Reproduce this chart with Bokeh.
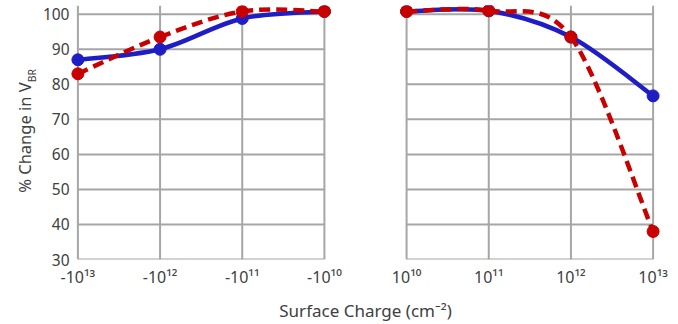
import math
from bokeh.plotting import figure
from bokeh.layouts import row
from bokeh.models import FixedTicker, ColumnDataSource
from bokeh.core.properties import value
from bokeh.embed import file_html
from bokeh.resources import INLINE

# ---- data ----
neg_labels = ["-10\u00b9\u00b3", "-10\u00b9\u00b2", "-10\u00b9\u00b9", "-10\u00b9\u2070"]
pos_labels = ["10\u00b9\u2070", "10\u00b9\u00b9", "10\u00b9\u00b2", "10\u00b9\u00b3"]
neg_blue = [87.0, 90.0, 98.8, 100.8]
neg_red = [83.0, 93.5, 100.8, 100.8]
pos_blue = [100.8, 101.0, 93.5, 76.7]
pos_red = [100.8, 101.0, 93.5, 38.0]
y_ticks = [30, 40, 50, 60, 70, 80, 90, 100]
y_title = "% Change in V"
y_title_sub = "BR"
x_title = "Surface Charge (cm\u207b\u00b2)"

BLUE = "#1E1EC4"
RED = "#C80000"
GRID = "#A6A6A6"
TXT = "#404040"
FONT = "Noto Sans"
W, H = 678, 324
TW = 38  # width of the strip holding the y title

neg_x = list(range(len(neg_labels)))
pos_x = [len(neg_labels) + i for i in range(len(pos_labels))]
y0, y1 = 30, 102.5

# ---- strip with the rotated y-axis title ----
t = figure(width=TW, height=H, output_backend="svg", toolbar_location=None,
           x_range=(0, TW), y_range=(0, H), min_border=0)
t.axis.visible = False
t.grid.visible = False
t.outline_line_color = None
ty = H - 98
t.text(x=[24], y=[ty], text=[y_title], angle=math.pi / 2, text_align="right",
       text_baseline="middle", text_font=value(FONT), text_font_size="16.5px", text_color=TXT)
t.text(x=[31], y=[ty], text=[y_title_sub], angle=math.pi / 2, text_align="left",
       text_baseline="middle", text_font=value(FONT), text_font_size="10.5px", text_color=TXT)

# ---- main chart ----
p = figure(width=W - TW, height=H, output_backend="svg", toolbar_location=None,
           x_range=(-0.09, pos_x[-1] + 0.09), y_range=(y0, y1),
           min_border_left=70 - TW, min_border_right=18, min_border_top=5, min_border_bottom=65)
p.outline_line_color = None
p.xgrid.visible = False
p.ygrid.visible = False

for ax in (p.xaxis[0], p.yaxis[0]):
    ax.axis_line_color = None
    ax.major_tick_line_color = None
    ax.minor_tick_line_color = None
    ax.major_tick_out = 0
    ax.major_tick_in = 0
    ax.major_label_text_font = FONT
    ax.major_label_text_color = TXT
p.yaxis.major_label_text_font_size = "15.5px"
p.xaxis.major_label_text_font_size = "16px"
p.yaxis.ticker = FixedTicker(ticks=y_ticks)
p.yaxis.major_label_standoff = 1
p.xaxis.ticker = FixedTicker(ticks=neg_x + pos_x)
p.xaxis.major_label_overrides = {x: l for x, l in zip(neg_x + pos_x, neg_labels + pos_labels)}
p.xaxis.major_label_standoff = 6
p.xaxis.axis_label = x_title
p.xaxis.axis_label_text_font = FONT
p.xaxis.axis_label_text_font_style = "normal"
p.xaxis.axis_label_text_font_size = "17px"
p.xaxis.axis_label_text_color = TXT
p.xaxis.axis_label_standoff = 8

# panel grids
for xs in (neg_x, pos_x):
    p.segment(x0=[xs[0]] * len(y_ticks), x1=[xs[-1]] * len(y_ticks), y0=y_ticks, y1=y_ticks,
              line_color=GRID, line_width=2)
    p.segment(x0=xs, x1=xs, y0=[y0] * len(xs), y1=[y1] * len(xs), line_color=GRID, line_width=2)


def smooth(xs, ys):
    n = len(xs)
    d = dict(x0=[], y0=[], x1=[], y1=[], cx0=[], cy0=[], cx1=[], cy1=[])
    for i in range(n - 1):
        xm, ym = (xs[i - 1], ys[i - 1]) if i > 0 else (xs[i], ys[i])
        xp, yp = (xs[i + 2], ys[i + 2]) if i + 2 < n else (xs[i + 1], ys[i + 1])
        d["x0"].append(xs[i]); d["y0"].append(ys[i])
        d["x1"].append(xs[i + 1]); d["y1"].append(ys[i + 1])
        d["cx0"].append(xs[i] + (xs[i + 1] - xm) / 6); d["cy0"].append(ys[i] + (ys[i + 1] - ym) / 6)
        d["cx1"].append(xs[i + 1] - (xp - xs[i]) / 6); d["cy1"].append(ys[i + 1] - (yp - ys[i]) / 6)
    return ColumnDataSource(d)


for xs, yb in ((neg_x, neg_blue), (pos_x, pos_blue)):
    p.bezier("x0", "y0", "x1", "y1", "cx0", "cy0", "cx1", "cy1", source=smooth(xs, yb),
             line_color=BLUE, line_width=4.5)
    p.scatter(xs, yb, size=12, color=BLUE)
for xs, yr in ((neg_x, neg_red), (pos_x, pos_red)):
    p.bezier("x0", "y0", "x1", "y1", "cx0", "cy0", "cx1", "cy1", source=smooth(xs, yr),
             line_color=RED, line_width=4.5, line_dash="11 6")
    p.scatter(xs, yr, size=12, color=RED)

layout = row(t, p, spacing=0)
open("out.html", "w").write(file_html(layout, INLINE))
